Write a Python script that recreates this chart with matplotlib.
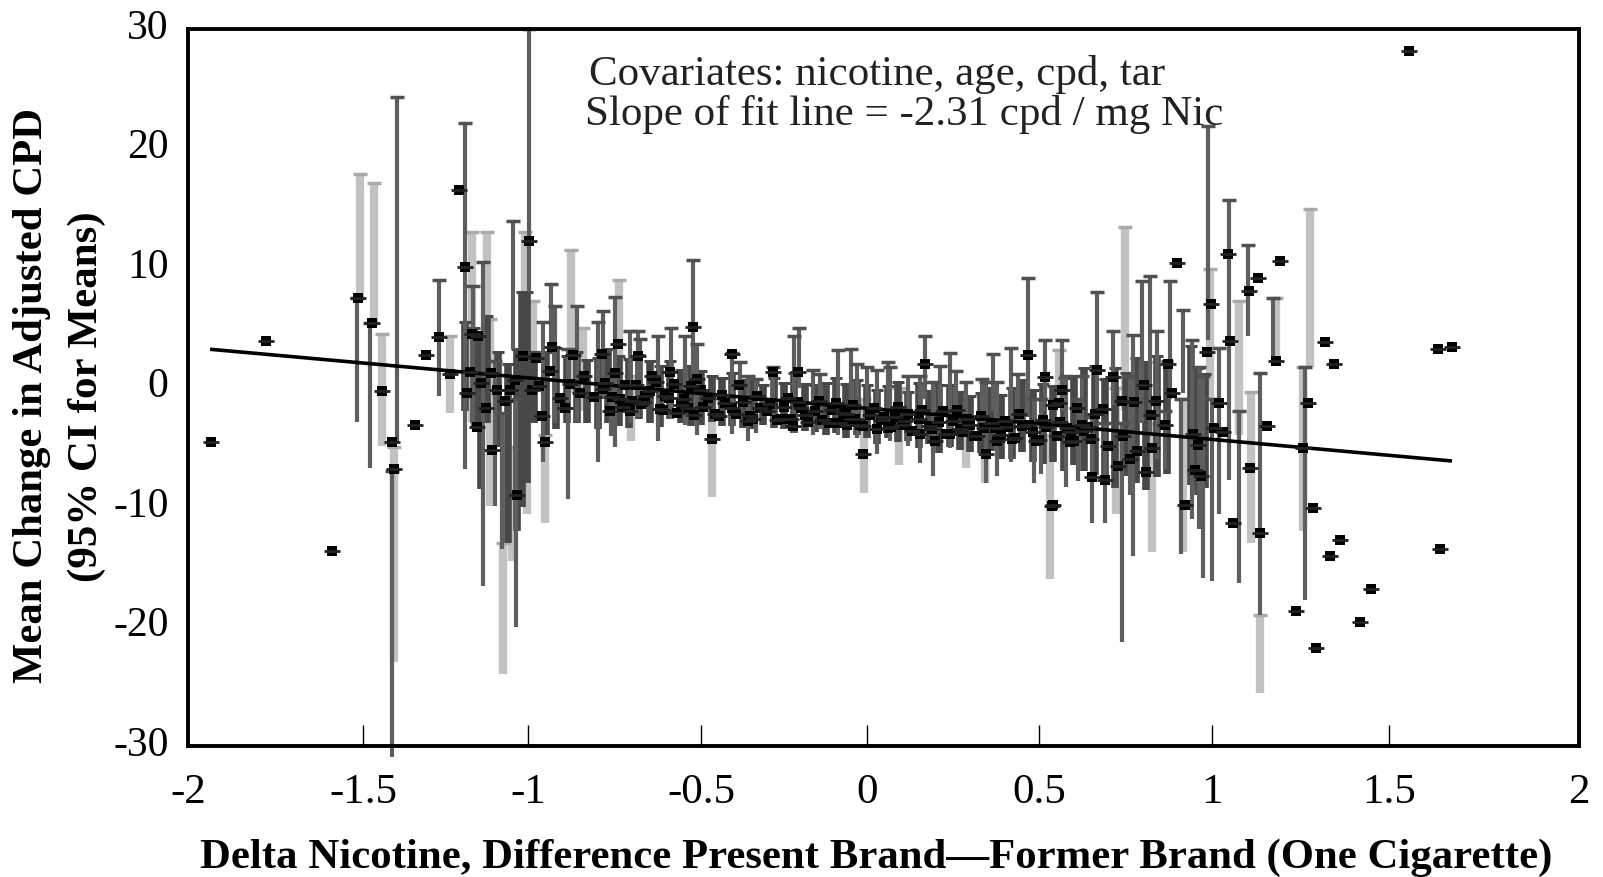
import matplotlib
matplotlib.use('Agg')
import matplotlib.pyplot as plt
from matplotlib.transforms import ScaledTranslation

plt.rcParams['font.family'] = ['Liberation Serif', 'DejaVu Serif']

# tick positions as they sit in the picture (spacing is a bit uneven)
x_tick_pos = [-1.968, -1.461, -0.983, -0.481, 0, 0.499, 1.001, 1.513, 2.064]
x_tick_labels = ['-2', '-1.5', '-1', '-0.5', '0', '0.5', '1', '1.5', '2']
y_ticks = [-30, -20, -10, 0, 10, 20, 30]
y_tick_labels = ['-30', '-20', '-10', '0', '10', '20', '30']

fit_x = [-1.904, 1.696]
fit_y = [3.2, -6.15]

# thin dark CI bars
dark_x = [-1.478, -1.44, -1.363, -1.378, -1.241, -1.165, -1.142, -1.113, -1.078, -1.058, -1.027, -1.018, -0.98,
          -0.939, -0.916, -0.904, -0.867, -0.841, -0.78, -0.765, -0.73, -0.742, -0.687, -0.664, -0.658, -0.606,
          -0.568, -0.528, -0.504, -0.493, -0.391, -0.368, -0.345, -0.322, -0.272, -0.21, -0.197, -0.155, -0.136,
          -0.084, -0.046, -0.029, 0.0, 0.029, 0.061, 0.067, 0.119, 0.154, 0.168, 0.191, 0.212, 0.24, 0.258, 0.287,
          0.333, 0.345, 0.365, 0.377, 0.417, 0.438, 0.467, 0.484, 0.516, 0.504, 0.565, 0.577, 0.623, 0.612, 0.667,
          0.652, 0.713, 0.69, 0.762, 0.739, 0.771, 0.798, 0.82, 0.841, 0.878, 0.916, 0.864, 0.942, 0.911, 0.962,
          0.989, 0.974, 1.0, 1.049, 1.104, 1.078, 1.177, 1.139, 1.27, 1.02]
dark_lo = [-2.9, -6.7, -4.6, -30.9, -0.7, -6.8, -3.5, -16.6, -9.9, -13.5, 3.2, -20, 8,
           -6.2, 3.5, -3, -9.3, -2.9, -6.2, -1, -5, -4.1, -3, -2.5, -1, -4.5,
           -2.6, -3.1, -0.5, -4, -3.9, -2.5, -4.5, -3.8, -3.1, -3.8, 0, -4, -3.5,
           -4, -2.5, -4.2, -2, -5.6, -3, -4.5, -4.9, -6.3, -1, -7.4, -3, -5.1, -3, -3,
           -4, -8, -2, -7.4, -6.2, -3, -2.5, -8, -2, -7.2, -2, -8.3, -3, -7.8, -2.5,
           -11.3, -1.5, -11.3, -9, -21.3, -14.1, -3, -4, -6, -1, -0.5, -6.8, -11, -13.9, -11.8,
           4, -15.9, -16.2, -7.7, 4.3, -16.4, 2, -19, -17.8, -10.6]
dark_hi = [7.5, 5.4, 24.3, -7, 9.0, 22.1, 8.5, 10.5, 2.2, -2.1, 13.9, -1, 30,
           5.5, 8.7, 6.8, 3.2, 6.8, 5.5, 6.4, 7.6, 1, 4.7, 4.7, 4.1, 4.3,
           5, 4.3, 10.7, 3.6, 2.9, 2.1, 1, 0.7, 1.7, 4.3, 5, 1.5, 1.1,
           3.1, 3.2, 2.0, 1.7, 1.5, 2.1, 1.7, 1, 1, 4.3, 0.5, 1.8, 2.9, 1.4, 0.5,
           0.7, 0.5, 2.8, 0.5, 3.3, 1.1, 9.2, -1, 4, -1, 4, 1, 1, -1, 8,
           -2.5, 4.7, -3, 1, -3, 4.4, 8.9, 9.3, 4.7, 8.9, 6.5, -2, 4, -1, 1.7,
           21.9, 1, -1, 15.7, 11.9, -2, 7.5, 1.2, 1.7, 3.3]

# wide pale CI bars
light_x = [-1.468, -1.43, -1.405, -1.372, -1.209, -1.145, -1.101, -1.093, -1.055, -1.03, -0.991, -0.986, -0.968, -0.933,
           -0.858, -0.823, -0.72, -0.684, -0.449, -0.009, 0.093, 0.287, 0.342, 0.53, 0.557, 0.722, 0.748, 0.826,
           0.916, 0.994, 1.078, 1.113, 1.139, 1.186, 1.284, 1.264]
light_lo = [7.5, 5.4, -4.9, -23, -2.1, -2.9, -3, -9.9, -24, -14.5, -7.7, -10.6, -2, -11.3,
            -0.5, -2, -1, -4.5, -9.2, -8.8, -6.5, -6.7, -8, -16, -1, -10.6, -2, -13.8,
            -13.8, -1, -4, -13, -25.6, 2, 1.7, -12]
light_hi = [17.9, 17.1, 4.5, -5, 4.3, 13, 13, 5.7, -13, -5, 13, 3, 7.2, -4,
            11.5, 5, 9, 1, -1, -1, 0, -1, -2, -4, 3.1, 0, 13.4, -3,
            -1, 9.9, 7.2, -0.4, -19, 7.5, 14.9, 1.7]

# fat mid-gray bars, they pile up into the dark band
band_x = [-1.165, -1.14, -1.12, -1.1, -1.07, -1.04, -1.015, -1.0, -0.985, -0.965, -0.93, -0.9, -0.87, -0.84, -0.81,
          -0.78, -0.75, -0.72, -0.69, -0.66, -0.63, -0.6, -0.57, -0.54, -0.51, -0.48, -0.45, -0.42, -0.39, -0.36,
          -0.33, -0.3, -0.27, -0.24, -0.21, -0.18, -0.15, -0.12, -0.09, -0.06, -0.03, 0.0, 0.03, 0.06, 0.09, 0.12,
          0.15, 0.18, 0.21, 0.24, 0.27, 0.3, 0.33, 0.36, 0.39, 0.42, 0.45, 0.48, 0.51, 0.54, 0.57, 0.6, 0.63, 0.66,
          0.69, 0.72, 0.75, 0.78, 0.81, 0.84, 0.87, 0.94, 0.96, 0.98]
band_lo = [-2, -3, -8.5, -3, -5, -13, -12, -10, -8, -3, -4, -3.5, -3, -3, -3, -3.5, -3, -3.2, -3.4, -2.6, -3, -3.3,
           -2.6, -3, -3.2, -3.1, -2.9, -3.2, -3.2, -3.4, -3.5, -3.1, -3.4, -3.5, -3.8, -3.6, -3.7, -4, -3.8, -4.2,
           -4, -4.2, -4.7, -4.2, -4.6, -4.5, -5.1, -4.7, -5.5, -5, -5.2, -5.4, -5.5, -5.3, -6, -6, -5.4, -6.2, -6.4,
           -6.2, -7, -6.5, -7, -7.3, -7.7, -8.4, -7.4, -8, -8.6, -7.5, -7.2, -8.2, -9, -8.4]
band_hi = [5.5, 5, 4, 6, 3, 2, 3.2, 8, 8, 3, 3, 3.3, 2.6, 3, 2.3, 2.5, 3.2, 2.6, 2.4, 2.7, 2.2, 1.8, 2.2, 1.5, 1.8,
           1.4, 1, 0.8, 1.2, 0.6, 0.5, 0.2, 0.8, 0.4, 1.2, 0.3, 0.2, 0.4, 0.8, 0.3, 0.6, 0.2, -0.2, 0.1, 0.5, -0.4,
           0.4, -0.3, 0.2, 0.2, -0.4, -0.7, -0.5, 0, -0.6, 0, 0.6, -0.2, 0.3, 0.1, 0.8, 1, 1.6, 1.8, 0.7, 1.6, 1.2,
           2.5, 2.1, 2.6, 2.2, 3.5, 1.6, 1.1]

# means, including the points with no CI at all
mean_x = [-1.90, -1.742, -1.55, -1.475, -1.435, -1.405, -1.378, -1.37, -1.277, -1.31, -1.241, -1.209, -1.183, -1.165,
          -1.159, -1.151, -1.145, -1.128, -1.13, -1.104, -1.087, -1.072, -1.035, -1.014, -0.997, -0.98, -0.971,
          -0.959, -0.942, -0.933, -0.913, -0.875, -0.852, -0.832, -0.768, -0.765, -0.745, -0.722, -0.716, -0.687,
          -0.664, -0.643, -0.623, -0.586, -0.571, -0.519, -0.504, -0.493, -0.449, -0.391, -0.345, -0.272, -0.214,
          -0.2, -0.058, -0.012, 0.029, 0.101, 0.154, 0.168, 0.197, 0.278, 0.345, 0.377, 0.467, 0.516, 0.536, 0.539,
          0.557, 0.565, 0.591, 0.623, 0.652, 0.667, 0.684, 0.69, 0.713, 0.728, 0.742, 0.762, 0.774, 0.783, 0.803,
          0.809, 0.823, 0.826, 0.838, 0.864, 0.872, 0.884, 0.899, 0.922, 0.945, 0.951, 0.96, 0.968, 0.986, 0.997,
          1.006, 1.02, 1.032, 1.046, 1.052, 1.061, 1.107, 1.11, 1.133, 1.139, 1.159, 1.186, 1.197, 1.243, 1.264,
          1.278, 1.293, 1.301, 1.328, 1.342, 1.354, 1.371, 1.429, 1.461, 1.57, 1.655, 1.661, 1.696,
          # dense middle band
          -0.74, -0.7, -0.68, -0.655, -0.63, -0.6, -0.575, -0.55, -0.53, -0.5, -0.475, -0.46, -0.43, -0.41, -0.38,
          -0.36, -0.33, -0.31, -0.29, -0.26, -0.24, -0.22, -0.19, -0.17, -0.15, -0.13, -0.1, -0.08, -0.06, -0.035,
          -0.01, 0.01, 0.04, 0.06, 0.08, 0.11, 0.13, 0.15, 0.18, 0.21, 0.23, 0.25, 0.27, 0.3, 0.32, 0.34, 0.36, 0.39,
          0.41, 0.43, 0.45, 0.48, 0.5, 0.52, 0.55, 0.58, 0.6, 0.63, 0.65,
          # second pass over the band
          -1.12, -1.09, -1.05, -1.02, -0.95, -0.92, -0.89, -0.86, -0.82, -0.79, -0.76, -0.73, -0.71, -0.67, -0.65,
          -0.61, -0.59, -0.56, -0.54, -0.51, -0.48, -0.44, -0.42, -0.39, -0.37, -0.34, -0.32, -0.28, -0.25, -0.23,
          -0.2, -0.18, -0.14, -0.11, -0.09, -0.07, -0.04, -0.02, 0.02, 0.05, 0.07, 0.09, 0.12, 0.16, 0.19, 0.22, 0.24,
          0.26, 0.29, 0.31, 0.33, 0.37, 0.4, 0.42, 0.44, 0.47, 0.49, 0.51, 0.54, 0.56, 0.59, 0.61, 0.64, 0.66, 0.7, 0.74]
mean_y = [-4.6, 3.9, -13.7, 7.5, 5.4, -0.3, -4.6, -6.8, 2.7, -3.1, 4.2, 1.1, 16.5, 10.1,
          -0.5, 1.3, 4.5, 4.3, -3.3, -1.7, -5.2, -0.2, -0.2, -9.0, 2.6, 12.3, -0.2,
          2.5, -2.4, -4.6, 3.4, -1.7, 2.7, -0.5, 2.8, -0.1, -2.0, 3.6, -1.0, -2.0,
          2.6, -0.7, 1.0, -0.7, 1.3, -1.7, 5.1, 0.7, -4.3, 2.8, -2.8, 1.3, -3.2,
          1.3, -3.1, -5.6, -3.5, -3.1, -3.9, 2.0, -4.5, -3.7, -5.6, -4.5, 2.7, 0.9, -9.9, -9.8,
          -1.3, -0.2, -3.7, -3.1, -7.5, 1.5, -1.8, -7.7, 0.9, -6.6, -4.1, -6.0, -1.2, -5.3, 0.2,
          -7.1, -2.3, -5.1, -1.1, -3.1, 2.0, -0.5, 10.4, -9.8, -3.9, -6.9, -4.8, -7.4, 3.0, 7.0,
          -3.4, -1.3, -3.7, 11.2, 3.9, -11.3, 8.1, -6.7, 9.2, -12.2, -3.2, 2.2, 10.6, -18.7, -5.1,
          -1.3, -10.1, -21.8, 3.8, -14.1, 2.0, -12.8, -19.6, -16.9, 28.2, 3.2, -13.5, 3.4,
          -0.8, 0.2, -1.1, -1.4, -0.3, -1.8, -0.9, -2.1, -1.0, -2.3, -1.6, -0.9, -2.4, -1.3, -2.2,
          -1.2, -2.6, -1.7, -2.0, -2.7, -1.6, -2.6, -1.7, -2.9, -2.0, -2.7, -1.9, -3.0, -2.2, -2.6,
          -3.2, -2.3, -2.7, -3.4, -2.5, -2.8, -3.6, -2.6, -3.2, -2.9, -3.9, -2.8, -3.5, -3.1, -4.1, -3.4,
          -3.0, -4.0, -3.3, -4.2, -3.2, -3.7, -4.4, -3.3, -4.1, -3.4, -4.5, -3.6, -4.3,
          0.4, 1.2, -1.1, 0.6, 0.1, 1.4, -0.9, 0.3, 1.0, -0.8, 0.4, 1.2, -1.6, 0.2, -1.2,
          0.5, -1.9, 0.3, -1.5, 0.1, -0.2, -2.2, -0.6, -1.7, 0.2, -2.4, -0.7, -1.4, -2.6, -0.9,
          -1.2, -2.3, -1.1, -3.0, -1.3, -2.1, -1.5, -3.1, -1.7, -2.5, -3.3, -1.6, -2.2, -1.9, -3.5, -2.0, -3.9,
          -1.9, -2.6, -4.1, -2.4, -3.4, -2.8, -4.3, -2.2, -3.1, -4.5, -2.7, -1.5, -2.9, -4.6, -1.7, -3.3, -2.2, -4.9, -1.1]

notes = ['Covariates: nicotine, age, cpd, tar', 'Slope of fit line = -2.31 cpd / mg Nic']
x_title = 'Delta Nicotine, Difference Present Brand\u2014Former Brand (One Cigarette)'
y_title_1 = 'Mean Change in Adjusted CPD'
y_title_2 = '(95% CI for Means)'

W, H = 1603, 878
fig = plt.figure(figsize=(W / 100, H / 100), dpi=100)
ax = fig.add_axes([188 / W, (H - 747) / H, (1579 - 188) / W, (747 - 30) / H])
ax.set_xlim(-1.968, 2.064)
ax.set_ylim(-30, 30)

# bars, pale first so the darker ones sit on top
ax.vlines(light_x, light_lo, light_hi, color='#c2c2c2', lw=6, clip_on=False, zorder=2)
ax.plot(light_x, light_hi, ls='', marker='_', ms=10, mew=2.5, color='#aaaaaa', zorder=2)
ax.vlines(band_x, band_lo, band_hi, color='#484848', lw=5.5, zorder=3)
ax.plot(band_x, band_hi, ls='', marker='_', ms=9, mew=2.2, color='#484848', zorder=3)
ax.vlines(dark_x, dark_lo, dark_hi, color='#5e5e5e', lw=3, clip_on=False, zorder=4)
ax.plot(dark_x, dark_hi, ls='', marker='_', ms=10, mew=2.5, color='#505050', zorder=4)

ax.plot(fit_x, fit_y, color='black', lw=2.6, zorder=5, solid_capstyle='butt')

ax.plot(mean_x, mean_y, ls='', marker='s', ms=7, color='black', mew=0, zorder=6)
ax.plot(mean_x, mean_y, ls='', marker='_', ms=11, mew=2, color='#222222', zorder=6)

for s in ax.spines.values():
    s.set_linewidth(2.8)
    s.set_zorder(8)

ax.set_xticks(x_tick_pos)
ax.set_xticklabels(x_tick_labels)
ax.set_yticks(y_ticks)
ax.set_yticklabels(y_tick_labels)
ax.tick_params(axis='x', direction='in', length=15, width=1, pad=19, labelsize=31)
ax.tick_params(axis='y', length=0, pad=14, labelsize=30)
ax.set_yticks([-30, 30], minor=True)
ax.tick_params(axis='y', which='minor', direction='out', length=8, width=2.8)
ax.set_xticks([2.064], minor=True)
ax.tick_params(axis='x', which='minor', direction='out', length=4, width=2.8)

# y labels sit a little above their ticks in the picture
up = ScaledTranslation(0, 6 / 100, fig.dpi_scale_trans)
for lab in ax.get_yticklabels():
    lab.set_transform(lab.get_transform() + up)

fig.text(589 / W, 1 - 74 / H, notes[0], fontsize=31, ha='left', va='center', color='#222222')
fig.text(585 / W, 1 - 115 / H, notes[1], fontsize=31, ha='left', va='center', color='#222222')

fig.text(876 / W, 1 - 858 / H, x_title, fontsize=30.8, fontweight='bold', ha='center', va='center')
fig.text(32 / W, 1 - 395 / H, y_title_1, fontsize=30.8, fontweight='bold', rotation=90, ha='center', va='center')
fig.text(87 / W, 1 - 397 / H, y_title_2, fontsize=31, fontweight='bold', rotation=90, ha='center', va='center')

fig.savefig('out.png', dpi=100)
